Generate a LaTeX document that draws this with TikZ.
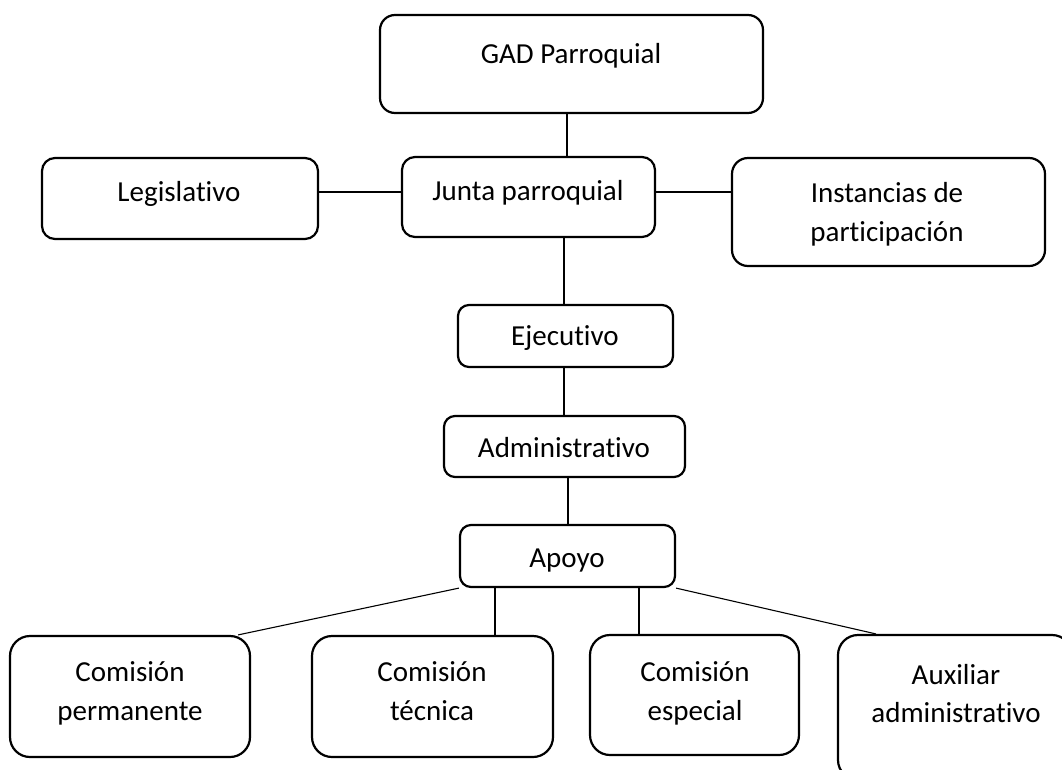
\documentclass[tikz,border=0pt]{standalone}
\usepackage{fontspec}
\setmainfont[Ligatures={TeX,NoCommon}]{Carlito}
\begin{document}
\begin{tikzpicture}[x=1pt,y=-1pt,
  box/.style={draw=black, line width=2.2pt, rounded corners=#1, inner sep=0pt, fill=white},
  box/.default=11pt,
  txt/.style={font=\fontsize{29}{38.5}\selectfont, align=center, inner sep=0pt},
  conn/.style={draw=black, line width=1.1pt}]
\useasboundingbox (0,0) rectangle (1062,769);
\clip (0,0) rectangle (1062,769);
% boxes
\node[box=15pt, minimum width=383pt, minimum height=98pt] (gad) at (571.5,64) {};
\node[box=13pt, minimum width=253pt, minimum height=80pt] (jun) at (528.5,197) {};
\node[box=13pt, minimum width=276pt, minimum height=81pt] (leg) at (180,198.5) {};
\node[box=16pt, minimum width=313pt, minimum height=108pt] (ins) at (888.5,212) {};
\node[box, minimum width=215pt, minimum height=62pt] (eje) at (565.5,336) {};
\node[box, minimum width=241pt, minimum height=61pt] (adm) at (564.5,446.5) {};
\node[box, minimum width=215pt, minimum height=62pt] (apo) at (567.5,556) {};
\node[box=20pt, minimum width=240pt, minimum height=121pt] (per) at (130,696.5) {};
\node[box=20pt, minimum width=241pt, minimum height=121pt] (tec) at (432.5,696.5) {};
\node[box=20pt, minimum width=209pt, minimum height=120pt] (esp) at (694.5,695) {};
\node[box=20pt, minimum width=234pt, minimum height=145pt] (aux) at (955,707.5) {};
% texts (struts give equal heights; single line: centre = baseline - 7.7, two lines: centre = first baseline + 11.55)
\node[txt] (gadT) at (571,55.3) {\strut GAD Parroquial};
\node[txt] (junT) at (528,192.3) {\strut Junta parroquial};
\node[txt] (legT) at (179,194) {\strut Legislativo};
\node[txt] (insT) at (887,214.5) {\strut Instancias de\\\strut participación};
\node[txt] (ejeT) at (565,337.3) {\strut Ejecutivo};
\node[txt] (admT) at (564,449.3) {\strut Administrativo};
\node[txt] (apoT) at (567,559.3) {\strut Apoyo};
\node[txt] (perT) at (130,693.3) {\strut Comisión\\\strut permanente};
\node[txt] (tecT) at (432,693.3) {\strut Comisión\\\strut técnica};
\node[txt] (espT) at (695,693.3) {\strut Comisión\\\strut especial};
\node[txt] (auxT) at (956,696) {\strut Auxiliar\\\strut administrativo};
% connectors
\draw[conn] ([xshift=-4.5pt]gad.south) -- ([xshift=-4.5pt]gad.south |- jun.north);
\draw[conn] ([yshift=6.5pt]leg.east) -- ([yshift=6.5pt]leg.east -| jun.west);
\draw[conn] ([yshift=5pt]jun.east) -- ([yshift=5pt]jun.east -| ins.west);
\draw[conn] ([xshift=-1.5pt]eje.north |- jun.south) -- ([xshift=-1.5pt]eje.north);
\draw[conn] ([xshift=-1.5pt]eje.south) -- ([xshift=-1.5pt]eje.south |- adm.north);
\draw[conn] ([xshift=3.5pt]adm.south) -- ([xshift=3.5pt]adm.south |- apo.north);
\draw[conn] (apo.south west) -- ([xshift=-13pt]per.north east);
\draw[conn] ([xshift=62.5pt]tec.north |- apo.south) -- ([xshift=62.5pt]tec.north);
\draw[conn] ([xshift=-55.5pt]esp.north |- apo.south) -- ([xshift=-55.5pt]esp.north);
\draw[conn] (apo.south east) -- ([xshift=39pt]aux.north west);
\end{tikzpicture}
\end{document}
